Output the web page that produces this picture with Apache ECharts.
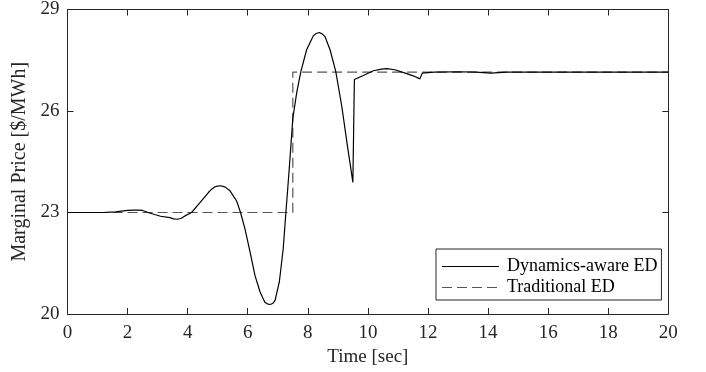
<!DOCTYPE html>
<html>
<head>
<meta charset="utf-8">
<script src="https://cdn.jsdelivr.net/npm/echarts@6/dist/echarts.min.js"></script>
<style>html,body{margin:0;padding:0;background:#fff;}#chart{width:706px;height:372px;}</style>
</head>
<body>
<div id="chart"></div>
<script>
var seriesNames = ['Dynamics-aware ED', 'Traditional ED'];
var awareTime = [0,1.2,1.4,1.6,1.8,2.0,2.2,2.36,2.5,2.68,2.9,3.1,3.41,3.53,3.66,3.79,3.91,4.13,4.41,4.69,4.8,4.91,5.0,5.11,5.25,5.41,5.63,5.76,5.91,6.08,6.24,6.41,6.57,6.65,6.74,6.83,6.91,7.05,7.18,7.27,7.38,7.5,7.63,7.77,7.96,8.18,8.28,8.38,8.48,8.57,8.74,8.93,9.13,9.32,9.5,9.55,9.85,10.18,10.46,10.63,10.9,11.24,11.51,11.73,11.81,12.2,13.0,13.6,14.1,14.6,20];
var awarePrice = [23.0,23.0,23.01,23.02,23.04,23.06,23.07,23.07,23.06,23.0,22.94,22.89,22.85,22.81,22.80,22.83,22.90,23.0,23.29,23.59,23.69,23.76,23.78,23.79,23.75,23.64,23.34,23.0,22.51,21.82,21.14,20.65,20.35,20.30,20.28,20.31,20.40,20.94,21.92,23.0,24.27,25.78,26.54,27.17,27.81,28.22,28.29,28.32,28.28,28.2,27.81,27.17,26.14,24.96,23.89,26.93,27.05,27.19,27.24,27.25,27.22,27.12,27.04,26.95,27.12,27.15,27.16,27.15,27.12,27.15,27.15];
var tradTime = [0,7.5,7.5,20];
var tradPrice = [23,23,27.15,27.15];
var xTicks = [0,2,4,6,8,10,12,14,16,18,20];
var yTicks = [20,23,26,29];

function pairs(a,b){var r=[];for(var i=0;i<a.length;i++){r.push([a[i],b[i]]);}return r;}

var font = 'Liberation Serif';
var axisColor = '#262626';
var chart = echarts.init(document.getElementById('chart'));
var gridPos = {left:67.5, right:37.7, top:9.5, bottom:56.7};
var common = {
  axisLine:{show:true,onZero:false,lineStyle:{color:axisColor,width:1}},
  axisTick:{show:true,inside:true,length:6,lineStyle:{color:axisColor,width:1}},
  splitLine:{show:false}
};
chart.setOption({
  animation:false,
  backgroundColor:'#fff',
  grid:gridPos,
  legend:{
    orient:'vertical',
    left:436, top:249,
    data:seriesNames,
    itemWidth:57, itemHeight:18, itemGap:3,
    padding:[8.5,4,3.5,5.5],
    borderColor:'#262626', borderWidth:1, backgroundColor:'#fff',
    itemStyle:{opacity:0},
    lineStyle:{width:1},
    textStyle:{fontFamily:font,fontSize:18,color:'#000',padding:[0,0,0,3]}
  },
  xAxis:[
    Object.assign({type:'value',min:xTicks[0],max:xTicks[xTicks.length-1],interval:2,position:'bottom',
      name:'Time [sec]',nameLocation:'middle',nameGap:34,
      nameTextStyle:{fontFamily:font,fontSize:19,color:axisColor},
      axisLabel:{fontFamily:font,fontSize:19,color:axisColor,margin:10}},common),
    Object.assign({type:'value',min:0,max:20,interval:2,position:'top',axisLabel:{show:false}},common)
  ],
  yAxis:[
    Object.assign({type:'value',min:yTicks[0],max:yTicks[yTicks.length-1],interval:3,position:'left',
      name:'Marginal Price [$/MWh]',nameLocation:'middle',nameGap:33,
      nameTextStyle:{fontFamily:font,fontSize:20,color:axisColor},
      axisLabel:{fontFamily:font,fontSize:19,color:axisColor,margin:8}},common),
    Object.assign({type:'value',min:20,max:29,interval:3,position:'right',axisLabel:{show:false}},common)
  ],
  series:[
    {name:seriesNames[0],type:'line',data:pairs(awareTime,awarePrice),showSymbol:false,symbol:'none',
      lineStyle:{color:'#000',width:1.2},itemStyle:{color:'#000'},z:3},
    {name:seriesNames[1],type:'line',data:pairs(tradTime,tradPrice),showSymbol:false,symbol:'none',
      lineStyle:{color:'#555',width:1.2,type:[10,5]},itemStyle:{color:'#555'},z:2}
  ]
});
</script>
</body>
</html>
